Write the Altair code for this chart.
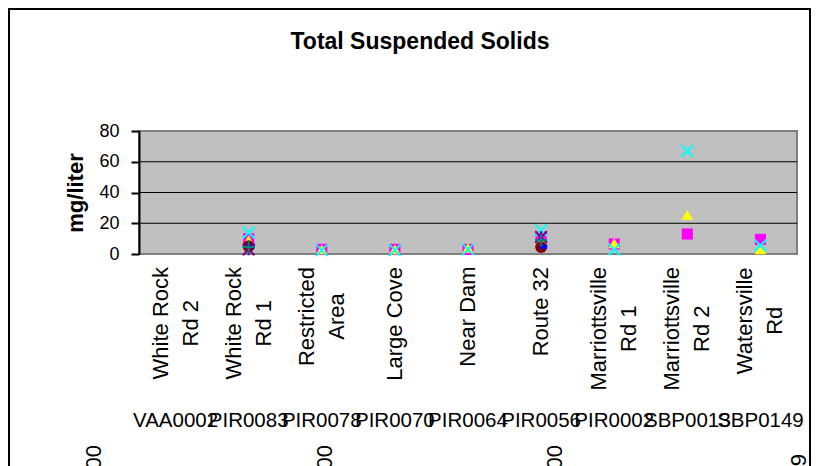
import altair as alt
import pandas as pd

# ---------------- data ----------------
stations = ["White Rock Rd 2", "White Rock Rd 1", "Restricted Area", "Large Cove",
            "Near Dam", "Route 32", "Marriottsville Rd 1", "Marriottsville Rd 2", "Watersville Rd"]
station_lines = [["White Rock", "Rd 2"], ["White Rock", "Rd 1"], ["Restricted", "Area"],
                 ["Large Cove"], ["Near Dam"], ["Route 32"], ["Marriottsville", "Rd 1"],
                 ["Marriottsville", "Rd 2"], ["Watersville", "Rd"]]
station_ids = ["VAA0002", "PIR0083", "PIR0078", "PIR0070", "PIR0064", "PIR0056",
               "PIR0002", "SBP0013", "SBP0149"]
group_labels = ["2000", "2000", "2000", "2009"]

series_names = ["Sample 1", "Sample 2", "Sample 3", "Sample 4",
                "Sample 5", "Sample 6", "Sample 7", "Sample 8"]
N = None
s1 = [N, 4.0, N, N, N, 8.0, N, N, N]
s2 = [N, 10.0, 3.0, 3.0, 3.0, 11.0, 6.5, 13.0, 9.5]
s3 = [N, 9.0, 3.0, 3.0, 4.0, 9.0, 7.0, 25.5, 3.0]
s4 = [N, 14.0, 2.5, 2.5, 3.0, 15.5, 3.0, 67.0, 5.5]
s5 = [N, 3.0, N, N, N, 11.0, N, N, N]
s6 = [N, 5.0, N, N, N, 4.5, N, N, N]
s7 = [N, 4.5, N, N, N, 9.0, N, N, N]
s8 = [N, 5.0, N, N, N, 4.8, N, N, N]
series_values = [s1, s2, s3, s4, s5, s6, s7, s8]

# ---------------- styles ----------------
colors = ["#000080", "#FF00FF", "#FFFF00", "#00FFFF", "#800080", "#800000", "#008080", "#0000FF"]
X_PATH = "M -1 -1 L 1 1 M -1 1 L 1 -1"
STAR_PATH = "M -1 -1 L 1 1 M -1 1 L 1 -1 M 0 -1 L 0 1"
PLUS_PATH = "M -1 0 L 1 0 M 0 -1 L 0 1"
DASH_PATH = "M -0.2 -0.35 L 1 -0.35 L 1 0.35 L -0.2 0.35 Z"
shapes = ["diamond", "square", "triangle-up", X_PATH, STAR_PATH, "circle", PLUS_PATH, DASH_PATH]
sizes = [120, 150, 230, 190, 150, 100, 150, 150]
filled_series = ["Sample 1", "Sample 2", "Sample 3", "Sample 6", "Sample 8"]

rows = []
for name, vals in zip(series_names, series_values):
    for st, v in zip(stations, vals):
        if v is not None:
            rows.append({"station": st, "series": name, "value": v})
df = pd.DataFrame(rows)

# layout
PW, PH = 658, 123
PAD_L, PAD_T, PAD_R, PAD_B = 131, 123, 16, 212
FONT = "Liberation Sans"
LINE_H = 30

ARIAL = {' ': 278, 'W': 944, 'h': 556, 'i': 222, 't': 278, 'e': 556, 'R': 722, 'o': 556,
         'c': 500, 'k': 500, 'd': 556, 's': 500, 'r': 333, 'A': 667, 'a': 556, 'L': 556,
         'g': 556, 'C': 722, 'v': 500, 'N': 667, 'D': 722, 'm': 833, 'u': 556, 'M': 833,
         'l': 222}


def text_width(s, size):
    return sum(ARIAL.get(ch, 556) for ch in s) / 1000.0 * size


NAME_SIZE = 22
x_scale = alt.Scale(type="band", domain=stations, paddingInner=0, paddingOuter=0)
x_enc = alt.X("station:N", scale=x_scale, axis=None)

y_axis = alt.Axis(values=[0, 20, 40, 60, 80], grid=False, domainColor="black", domainWidth=2,
                  tickColor="black", tickWidth=2, tickSize=8, labelFontSize=18, labelFont=FONT,
                  labelColor="black", labelPadding=12, title="mg/liter", titleFont=FONT,
                  titleFontSize=22, titleFontWeight="bold", titleColor="black",
                  titleAngle=270, titleX=-64, titleY=PH / 2, titleAlign="center",
                  titleBaseline="middle")
y_scale = alt.Scale(domain=[0, 80], nice=False)

grid = alt.Chart(pd.DataFrame({"value": [20, 40, 60]})).mark_rule(
    color="black", strokeWidth=1).encode(y=alt.Y("value:Q", scale=y_scale, axis=y_axis))

color_scale = alt.Scale(domain=series_names, range=colors)
shape_scale = alt.Scale(domain=series_names, range=shapes)
size_scale = alt.Scale(domain=series_names, range=sizes)

pts_base = alt.Chart(df).encode(
    x=x_enc,
    y=alt.Y("value:Q", scale=y_scale, axis=y_axis),
    color=alt.Color("series:N", scale=color_scale, legend=None),
    shape=alt.Shape("series:N", scale=shape_scale, legend=None),
    size=alt.Size("series:N", scale=size_scale, legend=None),
)
pts_fill = pts_base.transform_filter(
    alt.FieldOneOfPredicate(field="series", oneOf=filled_series)
).mark_point(filled=True, opacity=1, strokeWidth=0)
pts_stroke = pts_base.transform_filter(
    ~alt.FieldOneOfPredicate(field="series", oneOf=filled_series)
).mark_point(filled=False, opacity=1, strokeWidth=2)

# station name labels (rotated, lines centred, block ending near the axis)
name_layers = []
for st, lines in zip(stations, station_lines):
    maxw = max(text_width(l, NAME_SIZE) for l in lines)
    d = pd.DataFrame({"station": [st], "lines": [lines]})
    name_layers.append(
        alt.Chart(d).mark_text(angle=270, align="center", baseline="middle", font=FONT,
                               fontSize=NAME_SIZE, lineHeight=LINE_H, color="black",
                               dy=-(len(lines) - 1) * LINE_H / 2).encode(
            x=x_enc, y=alt.value(136 + maxw / 2), text="lines"))

ids = alt.Chart(pd.DataFrame({"station": stations, "sid": station_ids})).mark_text(
    align="center", baseline="alphabetic", font=FONT, fontSize=20.5, color="black").encode(
    x=x_enc, y=alt.value(296), text="sid:N")

grp_x = [-45, 186, 416, 660]
grp_y = [314, 314, 314, 323]
grp_layers = []
for gx, gy, gl in zip(grp_x, grp_y, group_labels):
    grp_layers.append(alt.Chart(pd.DataFrame({"t": [gl]})).mark_text(
        angle=270, align="right", baseline="middle", font=FONT, fontSize=22, color="black").encode(
        x=alt.value(gx), y=alt.value(gy), text="t:N"))

title = alt.Chart(pd.DataFrame({"t": ["Total Suspended Solids"]})).mark_text(
    align="center", baseline="alphabetic", font=FONT, fontSize=23, fontWeight="bold",
    color="black").encode(x=alt.value(281), y=alt.value(-82), text="t:N")

border = alt.Chart(pd.DataFrame({"a": [0]})).mark_rect(
    filled=False, stroke="black", strokeWidth=2).encode(
    x=alt.value(-PAD_L + 1), x2=alt.value(671), y=alt.value(-PAD_T + 1), y2=alt.value(PH + PAD_B + 20))

chart = alt.layer(grid, pts_fill, pts_stroke, *name_layers, ids, *grp_layers, title, border).properties(
    width=PW, height=PH,
    autosize=alt.AutoSizeParams(type="none"),
    padding={"left": PAD_L, "top": PAD_T, "right": PAD_R, "bottom": PAD_B},
    background="white",
).configure_view(fill="#C0C0C0", stroke="#808080", strokeWidth=2)

chart.save("out.html", embed_options={"renderer": "svg", "actions": False})
